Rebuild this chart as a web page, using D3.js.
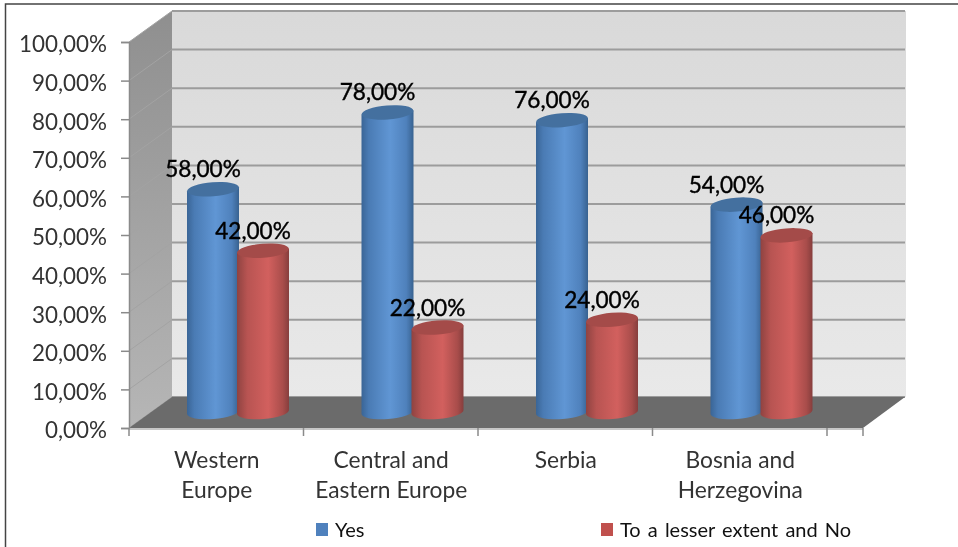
<!DOCTYPE html>
<html>
<head>
<meta charset="utf-8">
<script src="https://cdn.jsdelivr.net/npm/d3@7"></script>
<style>
  html, body { margin: 0; padding: 0; background: #fff; }
  svg { display: block; filter: blur(0.55px); }
  text { font-family: Lato, "Open Sans", sans-serif; }
</style>
</head>
<body>
<svg id="chart" width="958" height="547"></svg>
<script>
var categories = [['Western', 'Europe'], ['Central and', 'Eastern Europe'], ['Serbia'], ['Bosnia and', 'Herzegovina']];
var seriesNames = ['Yes', 'To a lesser extent and No'];
var yesValues = [58, 78, 76, 54];
var noValues = [42, 22, 24, 46];
var yTicks = [0, 10, 20, 30, 40, 50, 60, 70, 80, 90, 100];

var svg = d3.select('#chart');
var defs = svg.append('defs');

var comma = d3.formatLocale({ decimal: ',', thousands: '.', grouping: [3], currency: ['', ''] }).format('.2f');
var pct = d => comma(d) + '%';

// front plane, back plane and the plane the cylinders stand in
var yFront = d3.scaleLinear().domain([0, 100]).range([428, 42]);
var yBack = d3.scaleLinear().domain([0, 100]).range([397, 11]);
var yBar = d3.scaleLinear().domain([0, 100]).range([412, 28]);

var x = d3.scaleBand().domain(d3.range(categories.length)).range([129, 827]);
var xBar = d3.scaleBand().domain([0, 1]).range([59, 159]);

var depth = { x: 43, y: 31 }, floorRight = 863;

function gradient(id, dir, stops) {
  var g = defs.append('linearGradient').attr('id', id)
    .attr('x1', 0).attr('y1', 0)
    .attr('x2', dir === 'h' ? 1 : 0).attr('y2', dir === 'h' ? 0 : 1);
  stops.forEach(s => g.append('stop').attr('offset', s[0]).attr('stop-color', s[1]));
}

gradient('wall', 'v', [[0, '#d9d9d9'], [1, '#e9e9e9']]);
gradient('side', 'v', [[0, '#8f8f8f'], [1, '#b6b6b6']]);
gradient('cyl0', 'h', [[0, '#3a6596'], [0.14, '#4a7bb4'], [0.55, '#6096d4'], [0.86, '#4f81bc'], [1, '#386290']]);
gradient('cyl1', 'h', [[0, '#8f4341'], [0.2, '#b85452'], [0.6, '#d2605e'], [0.88, '#a94d4b'], [1, '#863e3d']]);

// page frame
svg.append('path').attr('d', 'M5.5,547V4H958').attr('fill', 'none').attr('stroke', '#444').attr('stroke-width', 1.5);

// walls
var base = svg.append('g');
base.append('rect').attr('x', 129 + depth.x).attr('y', yBack(100))
  .attr('width', floorRight - 129).attr('height', yBack(0) - yBack(100))
  .attr('fill', 'url(#wall)');
base.append('path')
  .attr('d', d3.line()([[129, yFront(100)], [129 + depth.x, yBack(100)], [129 + depth.x, yBack(0)], [129, yFront(0)]]) + 'Z')
  .attr('fill', 'url(#side)');

// gridlines on back wall, faint on the side wall
base.selectAll('line.grid').data(yTicks).join('line').attr('class', 'grid')
  .attr('x1', 129 + depth.x).attr('x2', floorRight + depth.x - 1)
  .attr('y1', d => yBack(d)).attr('y2', d => yBack(d))
  .attr('stroke', '#9c9c9c').attr('stroke-width', 2);
base.selectAll('line.sidegrid').data(yTicks).join('line').attr('class', 'sidegrid')
  .attr('x1', 129).attr('x2', 129 + depth.x)
  .attr('y1', d => yFront(d)).attr('y2', d => yBack(d))
  .attr('stroke', '#a3a3a3').attr('stroke-width', 1);

// floor
base.append('path')
  .attr('d', d3.line()([[129, yFront(0)], [129 + depth.x, yBack(0)], [floorRight + depth.x - 1, yBack(0)], [floorRight, yFront(0)]]) + 'Z')
  .attr('fill', '#6b6b6b');

// y axis
var yAxis = svg.append('g').attr('transform', 'translate(129,0)')
  .call(d3.axisLeft(yFront).tickValues(yTicks).tickFormat(pct).tickSize(8).tickPadding(14));
yAxis.select('.domain').attr('stroke', '#8a8a8a').attr('stroke-width', 1.5);
yAxis.selectAll('.tick line').attr('stroke', '#8a8a8a').attr('stroke-width', 1.5);
yAxis.selectAll('.tick text').attr('font-size', 22.4).attr('dy', '0.44em').attr('fill', '#333')
  .style('font-family', 'Lato, sans-serif');

// x axis, ticks sit on the band edges
var xEdges = categories.map((c, i) => x(i)).concat([x.range()[1], floorRight]);
svg.append('line').attr('x1', 129).attr('x2', floorRight)
  .attr('y1', yFront(0) + 1).attr('y2', yFront(0) + 1)
  .attr('stroke', '#b5b5b5').attr('stroke-width', 1.5);
svg.selectAll('line.xtick').data(xEdges).join('line').attr('class', 'xtick')
  .attr('x1', d => d).attr('x2', d => d)
  .attr('y1', yFront(0)).attr('y2', yFront(0) + 8)
  .attr('stroke', '#8a8a8a').attr('stroke-width', 1.5);

var catLabels = svg.selectAll('text.cat').data(categories).join('text').attr('class', 'cat')
  .attr('text-anchor', 'middle').attr('font-size', 22.8).attr('fill', '#333');
catLabels.selectAll('tspan').data((d, i) => d.map(t => ({ t: t, i: i }))).join('tspan')
  .attr('x', d => x(d.i) + x.bandwidth() / 2 + 0.5)
  .attr('y', (d, j) => 468 + j * 30)
  .text(d => d.t);

// cylinders
var rx = 26, ry = 7, tilt = 4.5, dy = rx * Math.sin(tilt * Math.PI / 180);

function cylinderPath(cx, top, bottom) {
  return `M${cx - rx},${top + dy}L${cx - rx},${bottom + dy}` +
    `A${rx},${ry} ${-tilt} 0 0 ${cx + rx},${bottom - dy}` +
    `L${cx + rx},${top - dy}Z`;
}

[yesValues, noValues].forEach(function(values, s) {
  var bars = svg.append('g').attr('class', 'series-' + s);
  var cx = i => x(i) + xBar(s) + 25;
  bars.selectAll('path').data(values).join('path')
    .attr('d', (d, i) => cylinderPath(cx(i), yBar(d), yBar(0)))
    .attr('fill', `url(#cyl${s})`);
  bars.selectAll('ellipse').data(values).join('ellipse')
    .attr('rx', rx).attr('ry', ry)
    .attr('transform', (d, i) => `translate(${cx(i)},${yBar(d)}) rotate(${-tilt})`)
    .attr('fill', s ? '#a44b49' : '#44709f');
});

// value labels go on top of every cylinder
[yesValues, noValues].forEach(function(values, s) {
  svg.append('g').selectAll('text').data(values).join('text')
    .attr('x', (d, i) => x(i) + xBar(s) + 25 - 10)
    .attr('y', d => yBar(d) - 12)
    .attr('text-anchor', 'middle')
    .attr('font-size', 22.6).attr('fill', '#000')
    .attr('stroke', '#000').attr('stroke-width', 0.4)
    .text(pct);
});

// legend
var legendX = d3.scaleOrdinal().domain(seriesNames).range([316, 601]);
var legend = svg.selectAll('g.legend').data(seriesNames).join('g').attr('class', 'legend')
  .attr('transform', d => `translate(${legendX(d)},523)`);
legend.append('rect').attr('width', 12).attr('height', 13)
  .attr('fill', (d, i) => i ? '#c0504d' : '#4f81bd');
legend.append('text').attr('x', 19).attr('y', 13.5)
  .attr('font-size', 20).attr('fill', '#111').attr('word-spacing', 2)
  .text(d => d);
</script>
</body>
</html>
